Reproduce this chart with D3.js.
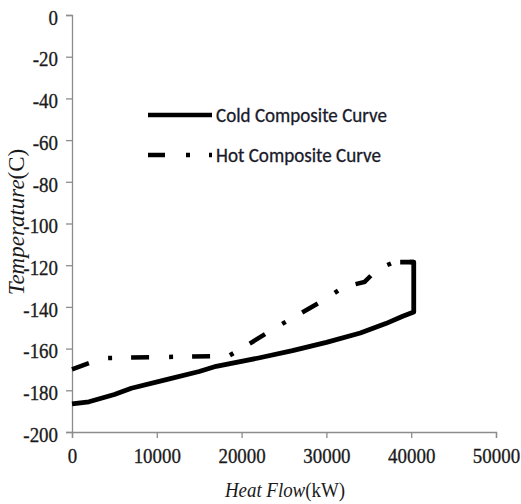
<!DOCTYPE html>
<html>
<head>
<meta charset="utf-8">
<script src="https://cdn.jsdelivr.net/npm/d3@7"></script>
<style>
  body { margin: 0; background: #fff; }
  svg { display: block; }
  .serif { font-family: "Liberation Serif", "Times New Roman", serif; font-size: 22px; }
  .legend-text { font-family: Carlito, "Open Sans", sans-serif; font-size: 20px; }
</style>
</head>
<body>
<div id="chart"></div>
<script>
// Cold composite curve: [heat flow kW, temperature C]
const coldCurve = [
  [0, -186.5], [2000, -185.5], [5000, -182], [7000, -179], [11000, -175],
  [15000, -171], [17000, -168.5], [22000, -164.5], [26000, -161],
  [30000, -157], [34000, -152.5], [37000, -148], [39000, -144.5],
  [40300, -142.5], [40300, -118.5], [38700, -118.5]
];
// Hot composite curve
const hotCurve = [
  [0, -170], [2000, -167], [4000, -164.5], [18500, -163.5], [20000, -160],
  [24000, -150], [27000, -143], [30000, -136], [32000, -130.5],
  [34500, -128], [36000, -122], [38000, -118.5], [40300, -118.5]
];
const xTicks = [0, 10000, 20000, 30000, 40000, 50000];
const yTicks = [0, -20, -40, -60, -80, -100, -120, -140, -160, -180, -200];
const legendNames = ["Cold Composite Curve", "Hot Composite Curve"];

const W = 521, H = 504;
const margin = { top: 15, right: 25, bottom: 72, left: 72 };
const width = W - margin.left - margin.right;
const height = H - margin.top - margin.bottom;

const svg = d3.select("#chart").append("svg")
  .attr("width", W).attr("height", H);
const g = svg.append("g")
  .attr("transform", `translate(${margin.left},${margin.top})`);

const x = d3.scaleLinear().domain([0, 50000]).range([0, width]);
const y = d3.scaleLinear().domain([-200, 0]).range([height, 0]);

const axisColor = "#8c8c8c";
const textColor = "#1a1a1a";
const fmt = d => String(d); // plain hyphen minus like the original

// x axis
const xAxis = g.append("g")
  .attr("transform", `translate(0,${height})`)
  .call(d3.axisBottom(x).tickValues(xTicks).tickSize(6).tickPadding(8).tickFormat(fmt));
// y axis
const yAxis = g.append("g")
  .call(d3.axisLeft(y).tickValues(yTicks).tickSize(6).tickPadding(10).tickFormat(fmt));

[xAxis, yAxis].forEach(ax => {
  ax.attr("font-family", null).attr("font-size", null);
  ax.select(".domain").attr("stroke", axisColor).attr("stroke-width", 1.3);
  ax.selectAll(".tick line").attr("stroke", axisColor).attr("stroke-width", 1.3);
  ax.selectAll(".tick text")
    .attr("class", "serif")
    .attr("fill", textColor)
    .attr("stroke", textColor)
    .attr("stroke-width", 0.35);
});
xAxis.selectAll(".tick text").attr("transform", "scale(0.86,1)").attr("dy", "0.78em");
yAxis.selectAll(".tick text")
  .attr("x", -14 / 0.86)
  .attr("dy", "0.42em")
  .attr("transform", "scale(0.86,1)");

// curves
const line = d3.line().x(d => x(d[0])).y(d => y(d[1]));

g.append("path")
  .datum(hotCurve)
  .attr("d", line)
  .attr("fill", "none")
  .attr("stroke", "#000")
  .attr("stroke-width", 4.5)
  .attr("stroke-dasharray", "18,20,4,19");

g.append("path")
  .datum(coldCurve)
  .attr("d", line)
  .attr("fill", "none")
  .attr("stroke", "#000")
  .attr("stroke-width", 4.8)
  .attr("stroke-linejoin", "round");

// legend
const legend = svg.append("g");
const legendRows = [
  { name: legendNames[0], y: 115, dash: null, len: 171 },
  { name: legendNames[1], y: 155, dash: "17,21,4,19", len: 165 }
];
legendRows.forEach(r => {
  legend.append("line")
    .attr("x1", 148).attr("x2", 212)
    .attr("y1", r.y).attr("y2", r.y)
    .attr("stroke", "#000").attr("stroke-width", 4.5)
    .attr("stroke-dasharray", r.dash);
  legend.append("text")
    .attr("class", "legend-text")
    .attr("x", 216).attr("y", r.y + 6.5)
    .attr("textLength", r.len)
    .attr("lengthAdjust", "spacingAndGlyphs")
    .attr("fill", "#1a1a2a")
    .attr("stroke", "#1a1a2a")
    .attr("stroke-width", 0.3)
    .text(r.name);
});

// axis titles
const xt = svg.append("text")
  .attr("class", "serif")
  .attr("transform", `translate(285,497) scale(0.86,1)`)
  .attr("text-anchor", "middle")
  .attr("fill", textColor);
xt.append("tspan").style("font-style", "italic").text("Heat Flow");
xt.append("tspan").text("(kW)");

const yt = svg.append("text")
  .attr("class", "serif")
  .attr("transform", `translate(24,222) rotate(-90)`)
  .attr("text-anchor", "middle")
  .style("font-size", "23px")
  .attr("fill", textColor);
yt.append("tspan").style("font-style", "italic").text("Temperature");
yt.append("tspan").text("(C)");
</script>
</body>
</html>
